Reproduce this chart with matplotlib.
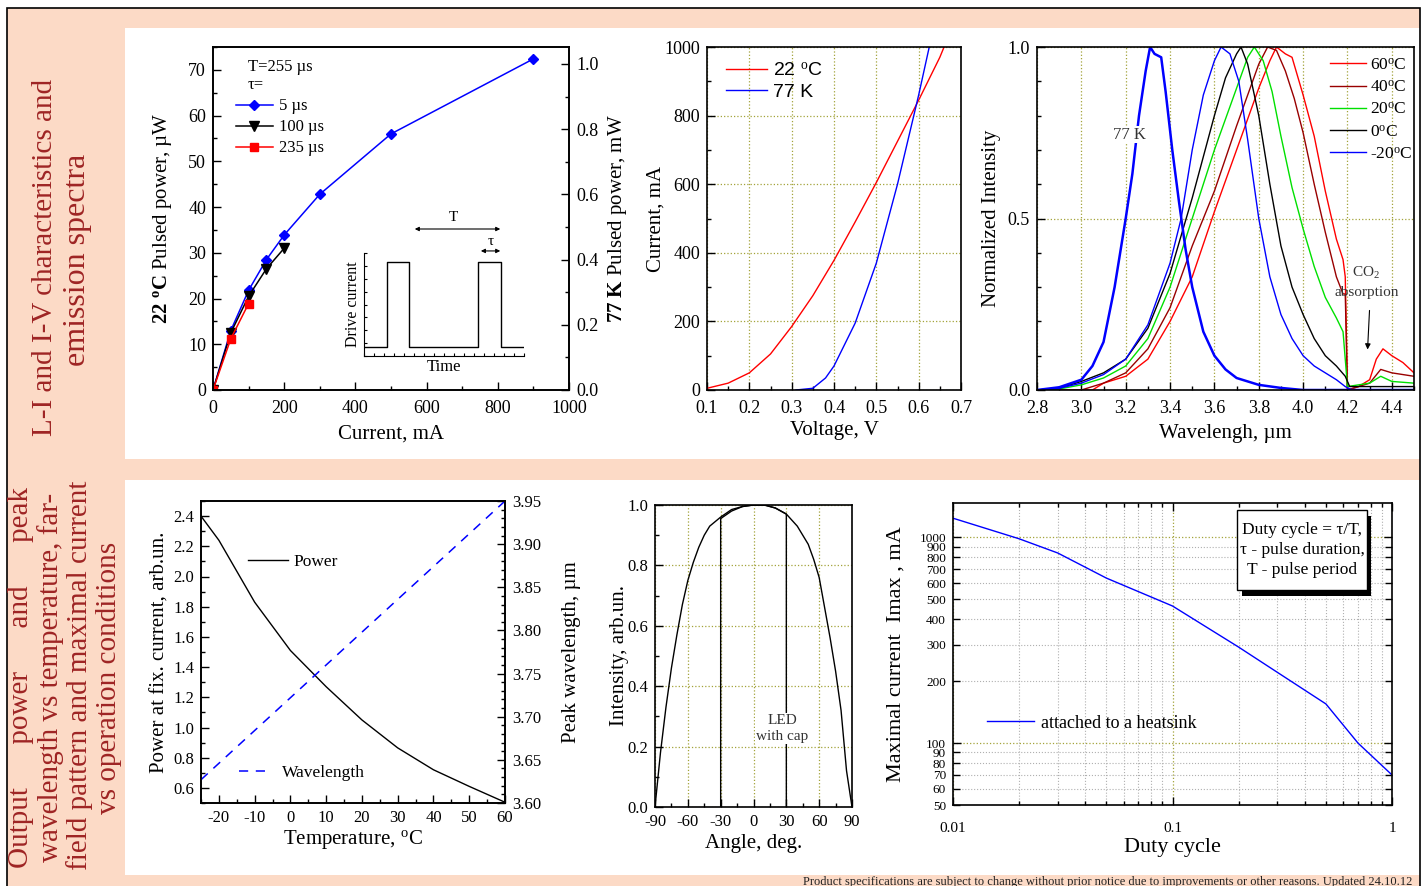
import numpy as np
import matplotlib
matplotlib.use('Agg')
import matplotlib.pyplot as plt
from matplotlib.patches import Rectangle
from matplotlib.ticker import MultipleLocator, FixedLocator, FormatStrFormatter, NullFormatter, FixedFormatter

plt.rcParams['font.family'] = ['Liberation Serif', 'DejaVu Serif']
plt.rcParams['mathtext.fontset'] = 'custom'
plt.rcParams['mathtext.rm'] = 'Liberation Serif'
plt.rcParams['mathtext.it'] = 'Liberation Serif:italic'
plt.rcParams['mathtext.bf'] = 'Liberation Serif:bold'
plt.rcParams['axes.unicode_minus'] = False

# ---------------- data ----------------
# L-I (22 C pulsed power, uW)
li_cur_5 = [0, 50, 100, 150, 200, 300, 500, 900]
li_pow_5 = [0, 13.0, 21.8, 28.5, 33.9, 42.8, 56.0, 72.4]
li_cur_100 = [0, 50, 100, 150, 200]
li_pow_100 = [0, 12.5, 20.5, 26.5, 31.0]
li_cur_235 = [0, 50, 100]
li_pow_235 = [0, 11.2, 18.9]
# inset pulse train
pulse_t = [0, 1.44, 1.44, 2.81, 2.81, 7.13, 7.13, 8.56, 8.56, 10.0]
pulse_i = [0.09, 0.09, 0.91, 0.91, 0.09, 0.09, 0.91, 0.91, 0.09, 0.09]

# I-V
iv_v22 = [0.10, 0.15, 0.20, 0.25, 0.30, 0.35, 0.40, 0.45, 0.50, 0.55, 0.60, 0.65, 0.66]
iv_i22 = [5, 20, 50, 105, 185, 275, 378, 490, 605, 725, 845, 970, 1000]
iv_v77 = [0.31, 0.35, 0.38, 0.40, 0.45, 0.50, 0.55, 0.60, 0.625]
iv_i77 = [0, 5, 35, 70, 195, 370, 600, 860, 1000]

# spectra
wl_77 = [2.80, 2.90, 3.00, 3.05, 3.10, 3.15, 3.20, 3.23, 3.26, 3.29, 3.31, 3.33, 3.36, 3.38, 3.41, 3.44, 3.47, 3.50, 3.55, 3.60, 3.65, 3.70, 3.80, 3.90, 4.00, 4.50]
in_77 = [0.0, 0.008, 0.03, 0.07, 0.14, 0.30, 0.50, 0.63, 0.80, 0.93, 1.0, 0.98, 0.97, 0.87, 0.70, 0.55, 0.41, 0.30, 0.17, 0.10, 0.06, 0.035, 0.015, 0.006, 0.0, 0.0]
wl_m20 = [2.80, 2.90, 3.00, 3.10, 3.20, 3.30, 3.40, 3.45, 3.50, 3.55, 3.60, 3.63, 3.67, 3.71, 3.75, 3.80, 3.85, 3.90, 3.95, 4.00, 4.05, 4.10, 4.15, 4.19, 4.22, 4.50]
in_m20 = [0.0, 0.005, 0.02, 0.045, 0.09, 0.19, 0.37, 0.50, 0.70, 0.86, 0.96, 1.0, 0.98, 0.90, 0.73, 0.50, 0.33, 0.22, 0.15, 0.10, 0.07, 0.05, 0.03, 0.01, 0.0, 0.0]
wl_0 = [2.80, 2.90, 3.00, 3.10, 3.20, 3.30, 3.40, 3.50, 3.60, 3.65, 3.70, 3.72, 3.75, 3.80, 3.85, 3.90, 3.95, 4.00, 4.05, 4.10, 4.15, 4.19, 4.21, 4.30, 4.40, 4.50]
in_0 = [0.0, 0.005, 0.025, 0.05, 0.09, 0.18, 0.34, 0.56, 0.80, 0.91, 0.98, 1.0, 0.95, 0.80, 0.60, 0.42, 0.30, 0.22, 0.15, 0.10, 0.07, 0.04, 0.01, 0.01, 0.01, 0.01]
wl_20 = [2.80, 2.90, 3.00, 3.10, 3.20, 3.30, 3.40, 3.50, 3.60, 3.70, 3.75, 3.78, 3.82, 3.86, 3.90, 3.95, 4.00, 4.05, 4.10, 4.15, 4.18, 4.20, 4.30, 4.35, 4.40, 4.50]
in_20 = [0.0, 0.003, 0.015, 0.035, 0.07, 0.15, 0.30, 0.50, 0.70, 0.88, 0.97, 1.0, 0.96, 0.87, 0.74, 0.59, 0.47, 0.36, 0.27, 0.21, 0.17, 0.01, 0.02, 0.04, 0.025, 0.02]
wl_40 = [2.80, 3.00, 3.10, 3.20, 3.30, 3.40, 3.50, 3.60, 3.70, 3.80, 3.84, 3.88, 3.92, 3.96, 4.00, 4.05, 4.10, 4.15, 4.18, 4.19, 4.20, 4.25, 4.30, 4.35, 4.40, 4.50]
in_40 = [0.0, 0.0, 0.02, 0.05, 0.12, 0.24, 0.42, 0.58, 0.77, 0.95, 1.0, 0.99, 0.93, 0.85, 0.75, 0.60, 0.46, 0.33, 0.28, 0.28, 0.0, 0.01, 0.02, 0.06, 0.05, 0.04]
wl_60 = [2.80, 3.05, 3.10, 3.20, 3.30, 3.40, 3.50, 3.60, 3.70, 3.80, 3.85, 3.88, 3.92, 3.95, 4.00, 4.05, 4.10, 4.15, 4.18, 4.19, 4.20, 4.25, 4.30, 4.33, 4.36, 4.40, 4.45, 4.50]
in_60 = [0.0, 0.0, 0.02, 0.04, 0.09, 0.20, 0.33, 0.52, 0.70, 0.88, 0.96, 1.0, 0.98, 0.97, 0.86, 0.74, 0.58, 0.44, 0.38, 0.33, 0.0, 0.01, 0.03, 0.09, 0.12, 0.10, 0.08, 0.05]

# temperature dependence
temp = [-25, -20, -10, 0, 10, 20, 30, 40, 50, 60]
power = [2.40, 2.24, 1.83, 1.51, 1.27, 1.05, 0.865, 0.72, 0.61, 0.505]
temp_wl = [-25, 60]
peak_wl = [3.627, 3.95]

# far field
angle = [-90, -85, -80, -75, -70, -65, -60, -55, -50, -45, -40, -30, -20, -10, 0, 10, 20, 30, 40, 50, 55, 60, 65, 70, 75, 80, 85, 90]
intensity = [0.0, 0.18, 0.33, 0.46, 0.57, 0.67, 0.75, 0.81, 0.86, 0.90, 0.93, 0.96, 0.985, 0.995, 1.0, 1.0, 0.99, 0.97, 0.93, 0.87, 0.82, 0.76, 0.66, 0.56, 0.45, 0.32, 0.12, 0.0]
cap_angle = [-30, -30, -20, -10, 0, 10, 20, 30, 30]
cap_int = [0.0, 0.955, 0.98, 0.995, 1.0, 1.0, 0.99, 0.97, 0.0]

# duty cycle
duty = [0.01, 0.02, 0.03, 0.05, 0.1, 0.2, 0.3, 0.5, 0.7, 1.0]
imax = [1240, 985, 840, 634, 464, 293, 221, 155, 100, 70]

# ---------------- layout ----------------
W, H = 1426, 886
fig = plt.figure(figsize=(W / 100, H / 100), dpi=100)
PEACH = '#FCDAC6'
RED_TXT = '#9E2424'
GRID = '#A3A33A'
DEG = r'$^{\mathrm{o}}$'

def fbox(x0, y0, x1, y1):
    return [x0 / W, 1 - y1 / H, (x1 - x0) / W, (y1 - y0) / H]

def frect(x0, y0, x1, y1, **kw):
    b = fbox(x0, y0, x1, y1)
    r = Rectangle((b[0], b[1]), b[2], b[3], transform=fig.transFigure, **kw)
    fig.patches.append(r)

frect(7, 8, 1420, 900, facecolor=PEACH, edgecolor='none', zorder=-10)
frect(125, 28, 1420, 459, facecolor='white', edgecolor='none', zorder=-9)
frect(125, 480, 1420, 875, facecolor='white', edgecolor='none', zorder=-9)
frect(7, 8, 1420, 900, facecolor='none', edgecolor='black', lw=1.2, zorder=-8)

def ftext(px, py, s, **kw):
    fig.text(px / W, 1 - py / H, s, **kw)

sidekw = dict(rotation=90, ha='center', va='center', color=RED_TXT, fontsize=21)
ftext(45, 257, 'L-I and I-V characteristics and', **sidekw)
ftext(78, 260, 'emission spectra', fontsize=23, **{k: v for k, v in sidekw.items() if k != 'fontsize'})
ftext(21, 677, 'Output      power      and      peak', **sidekw)
ftext(51, 677, 'wavelength vs temperature, far-', **sidekw)
ftext(80, 675, 'field pattern and maximal current', **sidekw)
ftext(109, 678, 'vs operation conditions', **sidekw)
ftext(1412, 882, 'Product specifications are subject to change without prior notice due to improvements or other reasons. Updated 24.10.12',
      ha='right', va='center', fontsize=9, color='#222222')

def style(ax, labelsize=13, pad=5):
    ax.tick_params(which='both', direction='in', labelsize=labelsize, width=1, colors='black', pad=pad)
    ax.tick_params(which='major', length=6)
    ax.tick_params(which='minor', length=3)
    for s in ax.spines.values():
        s.set_linewidth(1.2)

LBL = 15

# ---------- Panel 1: L-I ----------
ax1 = fig.add_axes(fbox(213, 47, 569, 390))
ax1.plot(li_cur_5, li_pow_5, color='#0000FF', lw=1.1, marker='D', ms=5.5, label='5 µs')
ax1.plot(li_cur_100, li_pow_100, color='black', lw=1.1, marker='v', ms=6.5, label='100 µs')
ax1.plot(li_cur_235, li_pow_235, color='#FF0000', lw=1.1, marker='s', ms=5.5, label='235 µs')
ax1.set_xlim(0, 1000)
ax1.set_ylim(0, 75)
ax1.xaxis.set_major_locator(MultipleLocator(200))
ax1.xaxis.set_minor_locator(MultipleLocator(100))
ax1.yaxis.set_major_locator(MultipleLocator(10))
ax1.yaxis.set_minor_locator(MultipleLocator(5))
style(ax1)
ax1.tick_params(axis='x', pad=7)
ax1.set_xlabel('Current, mA', fontsize=LBL)
ax1.xaxis.set_label_coords(0.5, -0.102)
ax1.set_ylabel(r'$\mathbf{22}$ $^{\mathbf{o}}\mathbf{C}$ Pulsed power, µW', fontsize=LBL)
ax1.yaxis.set_label_coords(-0.109, 0.5)
ax1.legend(loc='upper left', bbox_to_anchor=(0.06, 0.97), frameon=False, fontsize=12,
           title='T=255 µs\nτ=', title_fontsize=12, handlelength=2.2, handletextpad=0.4,
           labelspacing=0.3, borderaxespad=0, borderpad=0.1)
ax1b = ax1.twinx()
ax1b.set_ylim(0, 1.052)
ax1b.yaxis.set_major_locator(MultipleLocator(0.2))
ax1b.yaxis.set_minor_locator(MultipleLocator(0.1))
ax1b.yaxis.set_major_formatter(FormatStrFormatter('%.1f'))
style(ax1b)
ax1b.set_ylabel(r'$\mathbf{77\ K}$ Pulsed power, mW', fontsize=LBL, rotation=90)
ax1b.yaxis.set_label_coords(1.104, 0.5)

# inset
axi = fig.add_axes(fbox(364, 253, 524, 356))
axi.patch.set_alpha(0)
axi.plot(pulse_t, pulse_i, color='black', lw=1.0)
axi.set_xlim(0, 10)
axi.set_ylim(0, 1)
axi.spines['top'].set_visible(False)
axi.spines['right'].set_visible(False)
axi.set_xticks(np.linspace(0, 10, 17))
axi.set_yticks(np.linspace(0, 1, 9))
axi.tick_params(direction='in', length=2.5, labelbottom=False, labelleft=False)
axi.set_ylabel('Drive current', fontsize=11.5, labelpad=2)
axi.set_xlabel('Time', fontsize=12, labelpad=2)
axi.annotate('', xy=(8.69, 1.233), xytext=(3.0, 1.233), annotation_clip=False,
             arrowprops=dict(arrowstyle='<|-|>', lw=0.8, color='black', mutation_scale=6))
axi.text(5.6, 1.34, 'T', ha='center', va='center', fontsize=11)
axi.annotate('', xy=(8.69, 1.02), xytext=(7.13, 1.02), annotation_clip=False,
             arrowprops=dict(arrowstyle='<|-|>', lw=0.8, color='black', mutation_scale=6))
axi.text(7.94, 1.11, 'τ', ha='center', va='center', fontsize=11)

# ---------- Panel 2: I-V ----------
ax2 = fig.add_axes(fbox(707, 47, 961, 390))
ax2.plot(iv_v22, iv_i22, color='#FF0000', lw=1.0, label='22 ' + DEG + 'C')
ax2.plot(iv_v77, iv_i77, color='#0000FF', lw=1.0, label='77 K')
ax2.set_xlim(0.1, 0.7)
ax2.set_ylim(0, 1000)
ax2.xaxis.set_major_locator(MultipleLocator(0.1))
ax2.xaxis.set_minor_locator(MultipleLocator(0.05))
ax2.xaxis.set_major_formatter(FormatStrFormatter('%.1f'))
ax2.yaxis.set_major_locator(MultipleLocator(200))
ax2.yaxis.set_minor_locator(MultipleLocator(100))
ax2.grid(True, which='major', color=GRID, ls=':', lw=0.9)
style(ax2)
ax2.tick_params(axis='x', pad=7)
ax2.set_xlabel('Voltage, V', fontsize=LBL)
ax2.xaxis.set_label_coords(0.5, -0.09)
ax2.set_ylabel('Current, mA', fontsize=LBL)
ax2.yaxis.set_label_coords(-0.165, 0.5)
ax2.legend(loc='upper left', bbox_to_anchor=(0.075, 0.955), frameon=False,
           prop={'family': ['Liberation Sans', 'DejaVu Sans'], 'size': 14},
           handlelength=2.1, handletextpad=0.3, labelspacing=0.15, borderaxespad=0, borderpad=0)

# ---------- Panel 3: spectra ----------
ax3 = fig.add_axes(fbox(1037, 47, 1414, 390))
ax3.plot(wl_60, in_60, color='#FF0000', lw=1.0, label='60' + DEG + 'C')
ax3.plot(wl_40, in_40, color='#990000', lw=1.0, label='40' + DEG + 'C')
ax3.plot(wl_20, in_20, color='#00E000', lw=1.0, label='20' + DEG + 'C')
ax3.plot(wl_0, in_0, color='black', lw=1.0, label='0' + DEG + 'C')
ax3.plot(wl_m20, in_m20, color='#0000FF', lw=1.0, label='-20' + DEG + 'C')
ax3.plot(wl_77, in_77, color='#0000FF', lw=1.8)
ax3.set_xlim(2.8, 4.5)
ax3.set_ylim(0, 1)
ax3.xaxis.set_major_locator(MultipleLocator(0.2))
ax3.xaxis.set_minor_locator(MultipleLocator(0.1))
ax3.xaxis.set_major_formatter(FormatStrFormatter('%.1f'))
ax3.yaxis.set_major_locator(MultipleLocator(0.5))
ax3.yaxis.set_minor_locator(MultipleLocator(0.1))
ax3.yaxis.set_major_formatter(FormatStrFormatter('%.1f'))
ax3.grid(True, which='major', color=GRID, ls=':', lw=0.9)
style(ax3)
ax3.tick_params(axis='x', pad=7)
ax3.set_xlabel('Wavelengh, µm', fontsize=LBL)
ax3.xaxis.set_label_coords(0.5, -0.1)
ax3.set_ylabel('Normalized Intensity', fontsize=LBL)
ax3.yaxis.set_label_coords(-0.095, 0.5)
ax3.legend(loc='upper right', bbox_to_anchor=(1.0, 0.975), frameon=False, fontsize=12.5,
           handlelength=2.1, handletextpad=0.2, labelspacing=0.35, borderaxespad=0, borderpad=0.1)
ax3.text(3.218, 0.744, '77 K', ha='center', va='center', fontsize=12, color='#333333',
         bbox=dict(facecolor='white', edgecolor='none', pad=0.5))
ax3.text(4.285, 0.34, 'CO$_{2}$', ha='center', va='center', fontsize=11, color='#333333')
ax3.text(4.285, 0.283, 'absorption', ha='center', va='center', fontsize=11, color='#333333')
ax3.annotate('', xy=(4.29, 0.11), xytext=(4.30, 0.24),
             arrowprops=dict(arrowstyle='-|>', lw=0.8, color='black', mutation_scale=8))

# ---------- Panel 4: temperature ----------
ax4 = fig.add_axes(fbox(201, 501, 505, 803))
ax4.plot(temp, power, color='black', lw=1.0, label='Power')
ax4.set_xlim(-25, 60)
ax4.set_ylim(0.5, 2.5)
ax4.xaxis.set_major_locator(MultipleLocator(10))
ax4.xaxis.set_minor_locator(MultipleLocator(5))
ax4.yaxis.set_major_locator(MultipleLocator(0.2))
ax4.yaxis.set_minor_locator(MultipleLocator(0.1))
ax4.yaxis.set_major_formatter(FormatStrFormatter('%.1f'))
style(ax4, 12)
ax4.set_xlabel('Temperature, ' + DEG + 'C', fontsize=LBL)
ax4.xaxis.set_label_coords(0.5, -0.083)
ax4.set_ylabel('Power at fix. current, arb.un.', fontsize=LBL)
ax4.yaxis.set_label_coords(-0.102, 0.5)
ax4.legend(loc='center left', bbox_to_anchor=(0.155, 0.798), frameon=False, fontsize=12.5,
           handlelength=2.3, handletextpad=0.3, borderaxespad=0, borderpad=0)
ax4b = ax4.twinx()
ax4b.plot(temp_wl, peak_wl, color='#0000FF', lw=1.1, ls=(0, (6, 5)), label='Wavelength')
ax4b.set_ylim(3.60, 3.95)
ax4b.yaxis.set_major_locator(MultipleLocator(0.05))
ax4b.yaxis.set_minor_locator(MultipleLocator(0.01))
ax4b.yaxis.set_major_formatter(FormatStrFormatter('%.2f'))
style(ax4b, 12)
ax4b.set_ylabel('Peak wavelength, µm', fontsize=LBL, rotation=90)
ax4b.yaxis.set_label_coords(1.188, 0.5)
ax4b.legend(loc='center left', bbox_to_anchor=(0.125, 0.099), frameon=False, fontsize=12.5,
            handlelength=1.9, handletextpad=0.6, borderaxespad=0, borderpad=0)

# ---------- Panel 5: far field ----------
ax5 = fig.add_axes(fbox(655, 505, 852, 807))
ax5.plot(angle, intensity, color='black', lw=1.0)
ax5.plot(cap_angle, cap_int, color='black', lw=1.0)
ax5.set_xlim(-90, 90)
ax5.set_ylim(0, 1)
ax5.xaxis.set_major_locator(MultipleLocator(30))
ax5.xaxis.set_minor_locator(MultipleLocator(15))
ax5.yaxis.set_major_locator(MultipleLocator(0.2))
ax5.yaxis.set_minor_locator(MultipleLocator(0.1))
ax5.yaxis.set_major_formatter(FormatStrFormatter('%.1f'))
ax5.grid(True, which='major', color=GRID, ls=':', lw=0.9)
style(ax5, 12)
ax5.set_xlabel('Angle, deg.', fontsize=LBL)
ax5.xaxis.set_label_coords(0.5, -0.089)
ax5.set_ylabel('Intensity, arb.un.', fontsize=LBL)
ax5.yaxis.set_label_coords(-0.132, 0.5)
ax5.text(26, 0.26, 'LED\nwith cap', ha='center', va='center', fontsize=11, color='#333333',
         linespacing=1.3, bbox=dict(facecolor='white', edgecolor='none', pad=0.5), zorder=5)

# ---------- Panel 6: duty cycle ----------
ax6 = fig.add_axes(fbox(953, 503, 1392, 805))
ax6.plot(duty, imax, color='#0000FF', lw=1.0, label='attached to a heatsink')
ax6.set_xscale('log')
ax6.set_yscale('log')
ax6.set_xlim(0.01, 1)
ax6.set_ylim(50, 1470)
ax6.xaxis.set_major_locator(FixedLocator([0.01, 0.1, 1]))
ax6.xaxis.set_major_formatter(FixedFormatter(['0.01', '0.1', '1']))
xmin = [m * d for d in (0.01, 0.1) for m in range(2, 10)]
ax6.xaxis.set_minor_locator(FixedLocator(xmin))
ax6.xaxis.set_minor_formatter(NullFormatter())
ymaj = [100, 1000]
ymin = [50, 60, 70, 80, 90, 200, 300, 400, 500, 600, 700, 800, 900]
ax6.yaxis.set_major_locator(FixedLocator(ymaj))
ax6.yaxis.set_major_formatter(FixedFormatter(['100', '1000']))
ax6.yaxis.set_minor_locator(FixedLocator(ymin))
ax6.yaxis.set_minor_formatter(FixedFormatter([str(v) for v in ymin]))
ax6.grid(True, which='minor', color='#B0B0B0', ls=':', lw=0.8)
ax6.grid(True, which='major', color=GRID, ls=':', lw=0.9)
style(ax6, 11)
ax6.tick_params(which='both', top=True, right=True)
ax6.tick_params(axis='x', which='both', pad=12)
ax6.tick_params(axis='y', which='both', labelsize=9.5)
ax6.tick_params(axis='y', which='minor', length=5)
ax6.set_xlabel('Duty cycle', fontsize=16)
ax6.xaxis.set_label_coords(0.5, -0.11)
ax6.set_ylabel('Maximal current  Imax , mA', fontsize=16)
ax6.yaxis.set_label_coords(-0.107, 0.5)
ax6.legend(loc='center left', bbox_to_anchor=(0.077, 0.271), frameon=False, fontsize=13,
           handlelength=2.6, handletextpad=0.4, borderaxespad=0, borderpad=0)
ax6.add_patch(Rectangle((0.659, 0.692), 0.294, 0.265, transform=ax6.transAxes,
                        facecolor='black', edgecolor='none', zorder=5))
ax6.add_patch(Rectangle((0.648, 0.712), 0.294, 0.265, transform=ax6.transAxes,
                        facecolor='white', edgecolor='black', lw=1.0, zorder=6))
ax6.text(0.795, 0.845, 'Duty cycle = τ/T,\nτ - pulse duration,\nT - pulse period',
         transform=ax6.transAxes, ha='center', va='center', fontsize=12.5, linespacing=1.35, zorder=7)

fig.savefig('out.png', dpi=100)
